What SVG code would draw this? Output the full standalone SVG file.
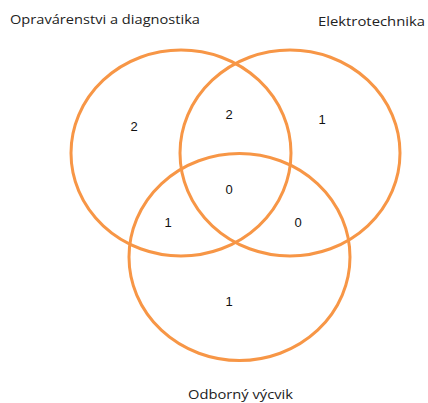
<svg xmlns="http://www.w3.org/2000/svg" width="428" height="403" viewBox="0 0 428 403">
<style>
.c{fill:none;stroke:#F79646;stroke-width:3}
.t{font-family:"Open Sans","Liberation Sans",sans-serif;font-size:13px;fill:#222}
.n{font-family:"Liberation Sans",sans-serif;font-size:13px;fill:#111;text-anchor:middle}
</style>
<rect width="428" height="403" fill="#fff"/>
<g id="set-oprav"><ellipse class="c" cx="181" cy="153" rx="110" ry="103"/></g>
<g id="set-elektro"><ellipse class="c" cx="290" cy="153" rx="110" ry="103"/></g>
<g id="set-odborny"><ellipse class="c" cx="239.5" cy="257" rx="110.5" ry="103.5"/></g>
<g id="labels">
<text class="t" x="10" y="24" textLength="190" lengthAdjust="spacingAndGlyphs">Opravárenstvi a diagnostika</text>
<text class="t" x="318" y="26" textLength="107" lengthAdjust="spacingAndGlyphs">Elektrotechnika</text>
<text class="t" x="188" y="399" textLength="105" lengthAdjust="spacingAndGlyphs">Odborný výcvik</text>
</g>
<g id="counts">
<text class="n" x="134" y="131">2</text>
<text class="n" x="229" y="119">2</text>
<text class="n" x="322" y="124">1</text>
<text class="n" x="229" y="194">0</text>
<text class="n" x="168" y="227">1</text>
<text class="n" x="298" y="227">0</text>
<text class="n" x="229" y="306">1</text>
</g>
</svg>
